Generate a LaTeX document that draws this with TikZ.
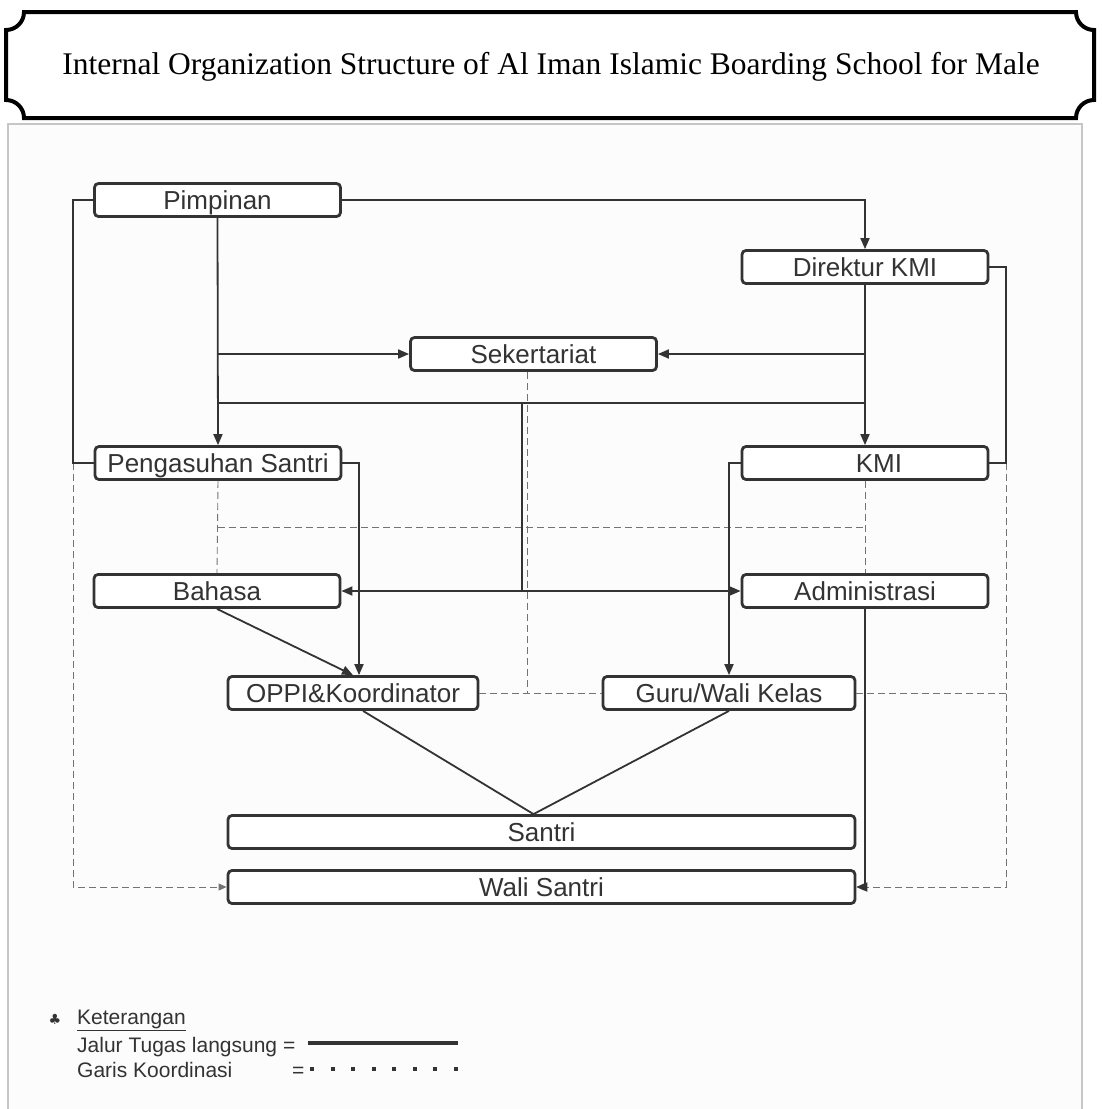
\documentclass[tikz,border=0pt]{standalone}
\usepackage{fontspec}
\setmainfont{Liberation Sans}
\newfontfamily\titlefont{Liberation Serif}
\newfontfamily\symfont{DejaVu Sans}
\usepackage{tikz}
\usetikzlibrary{arrows.meta,calc}
\definecolor{ln}{gray}{0.2}
\definecolor{dsh}{gray}{0.45}
\definecolor{pnl}{gray}{0.99}
\newcommand{\legfont}{\fontsize{21}{24}\selectfont}

\begin{document}
\begin{tikzpicture}[x=1pt,y=1pt,
  kotak/.style={draw=ln, line width=2.8pt, rounded corners=4pt, fill=white,
    minimum height=33pt, inner sep=0pt, text=ln, text height=22pt, text depth=3pt,
    font=\fontsize{26}{29}\selectfont},
  garis/.style={draw=ln, line width=1.8pt},
  tipis/.style={draw=ln, line width=1.2pt},
  koord/.style={draw=dsh, line width=0.9pt, dash pattern=on 7pt off 4pt},
  panah/.style={-{Triangle[length=11pt,width=9pt]}},
  panahk/.style={-{Triangle[length=8pt,width=7pt]}}
]
\useasboundingbox (0,0) rectangle (1101,-1109);
\draw[gray!45, line width=1.2pt, fill=pnl] (8,-124) rectangle (1082,-1115);

\draw[line width=4pt, fill=white] (24,-12) -- (1076,-12) arc (180:270:18) -- (1094,-100)
  arc (90:180:18) -- (24,-118) arc (0:90:18) -- (6,-30) arc (270:360:18) -- cycle;
\node[font=\titlefont\fontsize{31.5}{34}\selectfont, anchor=base] (judul) at (551,-74)
  {Internal Organization Structure of Al Iman Islamic Boarding School for Male};

\node[kotak, minimum width=246pt] (pim) at (217.5,-200) {Pimpinan};
\node[kotak, minimum width=246pt] (dir) at (865,-267) {Direktur KMI};
\node[kotak, minimum width=246pt] (sek) at (533.5,-354) {Sekertariat};
\node[kotak, minimum width=246pt] (pen) at (218,-463) {Pengasuhan Santri};
\node[kotak, minimum width=246pt] (kmi) at (865,-463) {\hspace*{28pt}KMI};
\node[kotak, minimum width=246pt] (bah) at (217,-591) {Bahasa};
\node[kotak, minimum width=246pt] (adm) at (865,-591) {Administrasi};
\node[kotak, minimum width=250pt] (opp) at (353,-693) {OPPI\&Koordinator};
\node[kotak, minimum width=252pt] (gur) at (729,-693) {Guru/Wali Kelas};
\node[kotak, minimum width=627pt] (san) at (541.5,-832) {Santri};
\node[kotak, minimum width=627pt] (wal) at (541.5,-887) {Wali Santri};

\coordinate (kiri) at (73,0);
\coordinate (kanan) at (1006,0);
\coordinate (tengah) at (522,-403);
\coordinate (koor) at (0,-527);

\draw[koord] (pen.south) -- (bah.north);
\draw[koord] (kmi.south) -- (adm.north);
\draw[koord] (pen.south |- koor) -- (kmi.south |- koor);
\draw[koord] ([xshift=-6pt]sek.south) -- ([xshift=-6pt]sek.south |- opp.east);
\draw[koord] (opp.east) -- (gur.west);
\draw[koord] (gur.east) -- (gur.east -| kanan);
\draw[koord,panahk] (pen.west -| kiri) |- (wal.west);
\draw[koord,panahk] (kmi.east -| kanan) |- (wal.east);

\draw[tipis] (pim.west) -- (pim.west -| kiri) |- (pen.west);
\draw[tipis] (dir.east) -- (dir.east -| kanan) |- (kmi.east);

\draw[garis,panah] (pim.east) -| (dir.north);
\draw[garis,panah] (pim.south) -- (pen.north);
\draw[garis,panah] (pim.south |- sek.west) -- (sek.west);
\draw[garis,panah] (dir.south) -- (kmi.north);
\draw[garis,panah] (dir.south |- sek.east) -- (sek.east);
\draw[garis] (pim.south |- tengah) -- (dir.south |- tengah);
\draw[garis] (tengah) -- (tengah |- bah.east);
\draw[garis,{Triangle[length=11pt,width=9pt]}-{Triangle[length=11pt,width=9pt]}] (bah.east) -- (adm.west);
\draw[garis,panah] (pen.east) -| ([xshift=6pt]opp.north);
\draw[garis,panah] (kmi.west) -| (gur.north);
\draw[garis,panah] (bah.south) -- (opp.north);
\draw[garis] ([xshift=10pt]opp.south) -- ([xshift=-8pt]san.north) -- (gur.south);
\draw[garis,panah] (adm.south) |- (wal.east);

\node[font=\symfont\fontsize{14}{14}\selectfont, text=ln] (klub) at (55,-1019) {♣};
\node[anchor=base west, inner sep=0pt, font=\legfont, text=ln] (ket) at (77,-1024) {\underline{Keterangan}};
\node[anchor=base west, inner sep=0pt, font=\legfont, text=ln] (jalur) at (77,-1052) {Jalur Tugas langsung =};
\node[anchor=base west, inner sep=0pt, font=\legfont, text=ln] (gk) at (77,-1077) {Garis Koordinasi};
\node[anchor=base west, inner sep=0pt, font=\legfont, text=ln] (sama) at (292,-1077) {=};
\draw[ln, line width=3.5pt] (308,-1043) -- (458,-1043);
\foreach \i in {0,...,7}
  \fill[ln] (310+20.5*\i,-1067) rectangle ++(4,-4);
\end{tikzpicture}
\end{document}
